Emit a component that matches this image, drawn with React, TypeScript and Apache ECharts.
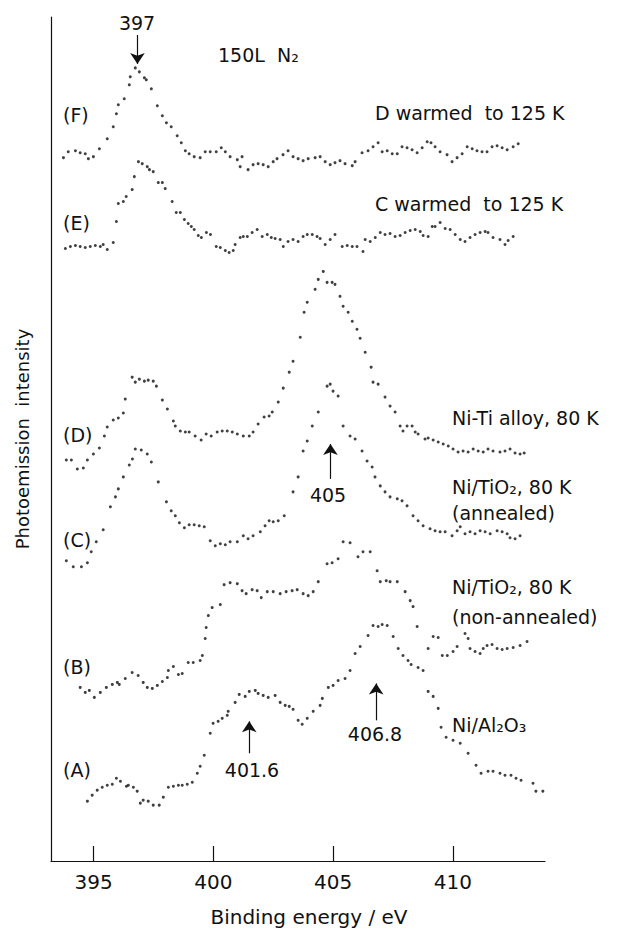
import React, { useEffect, useRef } from "react";
import * as echarts from "echarts";

// Binding energy (eV) vs photoemission intensity (arb. units, spectra offset vertically)
const xTicks = [395, 400, 405, 410];

const specF: [number, number][] = [
  [393.74, 705], [393.94, 711], [394.24, 712], [394.44, 710], [394.65, 709], [394.78, 704], [394.99, 706],
  [395.24, 714], [395.57, 724], [395.82, 736], [395.95, 749], [396.03, 758], [396.28, 764], [396.49, 778],
  [396.53, 786], [396.74, 795], [396.91, 791], [397.12, 785], [397.20, 783], [397.41, 774], [397.66, 757],
  [397.87, 747], [398.04, 740], [398.24, 736], [398.49, 727], [398.66, 720], [398.83, 712], [398.99, 709],
  [399.20, 706], [399.45, 705], [399.66, 711], [399.87, 711], [400.12, 711], [400.33, 715], [400.50, 711],
  [400.70, 706], [401.00, 703], [401.12, 696], [401.20, 706], [401.45, 693], [401.66, 698], [401.87, 699],
  [402.08, 698], [402.29, 696], [402.50, 701], [402.66, 704], [402.91, 708], [403.12, 712], [403.33, 706],
  [403.54, 704], [403.75, 702], [403.96, 704], [404.25, 705], [404.46, 706], [404.67, 701], [404.88, 698],
  [405.08, 700], [405.29, 702], [405.50, 699], [405.80, 697], [405.92, 701], [406.21, 710], [406.46, 712],
  [406.67, 716], [406.88, 720], [407.05, 711], [407.26, 712], [407.47, 709], [407.68, 709], [407.88, 716],
  [408.09, 715], [408.30, 713], [408.51, 710], [408.72, 715], [408.93, 721], [409.09, 720], [409.26, 716],
  [409.47, 711], [409.76, 708], [409.97, 701], [410.18, 705], [410.39, 709], [410.60, 716], [410.81, 714],
  [411.01, 712], [411.22, 711], [411.43, 711], [411.64, 716], [411.85, 717], [412.06, 715], [412.27, 713],
  [412.52, 716], [412.73, 719],
];

const specE: [number, number][] = [
  [393.82, 614], [394.03, 616], [394.24, 617], [394.44, 616], [394.65, 615], [394.86, 616], [395.07, 617],
  [395.28, 616], [395.40, 618], [395.57, 613], [395.82, 620], [395.95, 641], [396.03, 659], [396.24, 661],
  [396.36, 666], [396.61, 673], [396.70, 686], [396.87, 701], [397.03, 699], [397.24, 696], [397.33, 693],
  [397.49, 691], [397.70, 680], [397.87, 680], [397.99, 674], [398.28, 661], [398.45, 650], [398.62, 650],
  [398.79, 643], [398.95, 639], [399.08, 636], [399.20, 633], [399.37, 627], [399.50, 625], [399.71, 630],
  [399.88, 628], [400.12, 616], [400.29, 615], [400.50, 612], [400.66, 610], [400.83, 612], [400.91, 618],
  [401.12, 625], [401.25, 626], [401.42, 626], [401.62, 630], [401.83, 633], [402.04, 626], [402.25, 628],
  [402.42, 625], [402.58, 624], [402.79, 623], [402.92, 616], [403.12, 621], [403.33, 623], [403.54, 621],
  [403.75, 626], [403.92, 628], [404.13, 628], [404.33, 626], [404.46, 624], [404.67, 618], [404.88, 623],
  [405.08, 628], [405.38, 616], [405.59, 617], [405.80, 616], [406.00, 616], [406.25, 611], [406.34, 623],
  [406.55, 621], [406.76, 625], [406.97, 630], [407.17, 628], [407.38, 629], [407.59, 626], [407.80, 627],
  [408.01, 630], [408.22, 632], [408.43, 633], [408.64, 631], [408.76, 627], [408.97, 626], [409.14, 636],
  [409.26, 636], [409.47, 640], [409.68, 634], [409.89, 633], [410.10, 628], [410.31, 623], [410.51, 621],
  [410.72, 625], [410.93, 628], [411.14, 630], [411.35, 631], [411.47, 630], [411.68, 625], [411.97, 623],
  [412.18, 618], [412.31, 622], [412.52, 626],
];

const specD: [number, number][] = [
  [393.86, 402], [394.07, 402], [394.32, 393], [394.57, 394], [394.74, 402], [394.99, 408], [395.24, 414],
  [395.45, 426], [395.57, 435], [395.82, 442], [396.03, 444], [396.24, 449], [396.32, 463], [396.61, 485],
  [396.74, 480], [396.91, 483], [397.12, 481], [397.28, 482], [397.49, 481], [397.62, 476], [397.87, 462],
  [398.08, 453], [398.33, 441], [398.41, 436], [398.62, 431], [398.83, 430], [398.99, 430], [399.24, 426],
  [399.49, 422], [399.70, 428], [399.91, 426], [400.16, 430], [400.37, 431], [400.58, 431], [400.79, 430],
  [401.00, 428], [401.25, 426], [401.50, 426], [401.66, 430], [401.87, 438], [402.12, 445], [402.33, 446],
  [402.46, 450], [402.71, 460], [402.92, 474], [403.17, 490], [403.33, 501], [403.63, 525], [403.79, 550],
  [403.92, 560], [404.25, 573], [404.38, 583], [404.59, 591], [404.75, 580], [404.96, 580], [405.08, 578],
  [405.29, 566], [405.42, 556], [405.63, 550], [405.80, 541], [406.00, 533], [406.13, 524], [406.34, 510],
  [406.59, 495], [406.67, 480], [406.88, 478], [407.17, 465], [407.38, 456], [407.59, 450], [407.80, 436],
  [407.92, 431], [408.09, 436], [408.30, 436], [408.43, 430], [408.55, 428], [408.84, 423], [408.97, 424],
  [409.18, 422], [409.39, 420], [409.60, 418], [409.81, 416], [410.01, 413], [410.22, 410], [410.43, 411],
  [410.64, 410], [410.85, 413], [411.06, 411], [411.27, 410], [411.47, 413], [411.68, 411], [411.97, 410],
  [412.18, 411], [412.39, 413], [412.60, 409], [412.81, 408], [412.98, 409],
];

const specC: [number, number][] = [
  [393.86, 301], [394.15, 295], [394.49, 295], [394.74, 299], [394.90, 310], [395.11, 320], [395.40, 332],
  [395.70, 355], [395.91, 365], [396.03, 373], [396.24, 385], [396.49, 397], [396.62, 403], [396.74, 413],
  [396.99, 412], [397.24, 408], [397.41, 400], [397.70, 380], [398.04, 360], [398.24, 351], [398.41, 346],
  [398.58, 339], [398.79, 334], [398.99, 337], [399.20, 337], [399.41, 336], [399.62, 335], [399.87, 321],
  [400.08, 316], [400.29, 318], [400.50, 317], [400.70, 320], [401.00, 320], [401.25, 326], [401.45, 323],
  [401.66, 326], [401.96, 330], [402.16, 336], [402.33, 341], [402.50, 340], [402.71, 341], [402.96, 346],
  [403.33, 370], [403.54, 385], [403.75, 411], [403.92, 421], [404.13, 436], [404.38, 450], [404.75, 476],
  [404.88, 478], [405.00, 471], [405.21, 466], [405.42, 436], [405.71, 426], [405.92, 423], [406.21, 411],
  [406.42, 401], [406.63, 395], [406.75, 385], [406.97, 376], [407.17, 370], [407.38, 365], [407.68, 363],
  [407.88, 361], [408.09, 356], [408.34, 346], [408.55, 341], [408.76, 336], [409.05, 333], [409.26, 331],
  [409.47, 330], [409.68, 330], [409.97, 326], [410.18, 331], [410.31, 335], [410.51, 328], [410.72, 330],
  [410.93, 328], [411.14, 331], [411.35, 330], [411.56, 328], [411.85, 331], [412.06, 330], [412.27, 328],
  [412.39, 324], [412.60, 323], [412.81, 326],
];

const specB: [number, number][] = [
  [394.44, 174], [394.65, 169], [394.82, 171], [395.03, 164], [395.28, 169], [395.53, 174], [395.78, 177],
  [395.99, 179], [396.07, 177], [396.32, 183], [396.61, 189], [396.86, 186], [397.07, 179], [397.24, 174],
  [397.45, 173], [397.66, 176], [397.87, 180], [398.08, 184], [398.12, 191], [398.33, 195], [398.54, 187],
  [398.70, 188], [398.95, 199], [399.16, 199], [399.45, 201], [399.54, 206], [399.66, 223], [399.70, 234],
  [399.79, 246], [399.95, 254], [400.29, 257], [400.45, 277], [400.70, 279], [401.00, 278], [401.20, 271],
  [401.37, 268], [401.62, 272], [401.83, 271], [402.00, 264], [402.25, 270], [402.50, 270], [402.79, 268],
  [403.04, 270], [403.29, 271], [403.50, 272], [403.75, 268], [403.96, 266], [404.17, 270], [404.38, 280],
  [404.75, 298], [404.96, 299], [405.21, 303], [405.42, 320], [405.71, 319], [406.04, 305], [406.25, 310],
  [406.55, 310], [406.84, 291], [406.97, 280], [407.22, 281], [407.38, 280], [407.68, 280], [408.01, 270],
  [408.22, 261], [408.34, 255], [408.51, 235], [408.97, 213], [409.18, 225], [409.39, 224], [409.56, 206],
  [409.77, 206], [410.01, 210], [410.18, 215], [410.51, 228], [410.64, 223], [410.72, 213], [410.93, 210],
  [411.14, 208], [411.27, 213], [411.43, 216], [411.64, 217], [411.85, 213], [412.06, 212], [412.27, 213],
  [412.52, 214], [412.81, 216], [413.10, 220],
];

const specA: [number, number][] = [
  [394.74, 60], [394.94, 66], [395.15, 71], [395.36, 74], [395.57, 76], [395.78, 77], [395.95, 83],
  [396.12, 80], [396.37, 75], [396.45, 76], [396.66, 74], [396.82, 70], [396.95, 58], [397.07, 61],
  [397.28, 60], [397.49, 56], [397.74, 56], [397.91, 64], [398.12, 74], [398.33, 75], [398.54, 76],
  [398.70, 76], [398.91, 77], [399.12, 79], [399.33, 88], [399.45, 95], [399.62, 106], [399.87, 128],
  [399.99, 138], [400.20, 140], [400.37, 143], [400.58, 146], [400.62, 150], [400.91, 159], [401.08, 167],
  [401.33, 165], [401.50, 170], [401.75, 171], [401.87, 168], [402.08, 166], [402.29, 164], [402.58, 166],
  [402.79, 159], [403.00, 156], [403.17, 155], [403.33, 152], [403.54, 141], [403.71, 137], [403.92, 143],
  [404.17, 150], [404.46, 156], [404.55, 163], [404.80, 174], [405.00, 176], [405.21, 181], [405.50, 183],
  [405.71, 191], [405.92, 208], [406.13, 215], [406.46, 226], [406.67, 236], [406.88, 235], [407.05, 237],
  [407.26, 236], [407.51, 225], [407.72, 213], [407.92, 206], [408.13, 201], [408.26, 197], [408.55, 194],
  [408.76, 191], [408.97, 170], [409.18, 165], [409.39, 153], [409.51, 134], [409.72, 124], [410.01, 121],
  [410.31, 118], [410.64, 108], [410.97, 96], [411.18, 88], [411.47, 90], [411.68, 90], [411.97, 88],
  [412.18, 86], [412.43, 86], [412.64, 83], [412.85, 81], [413.35, 78], [413.47, 70], [413.76, 70],
];

const spectra = [
  { name: "(A) Ni/Al2O3", data: specA },
  { name: "(B) Ni/TiO2 non-annealed", data: specB },
  { name: "(C) Ni/TiO2 annealed", data: specC },
  { name: "(D) Ni-Ti alloy", data: specD },
  { name: "(E) C warmed", data: specE },
  { name: "(F) D warmed", data: specF },
];

// peak-marker arrows: energy position, tail and tip intensity
const arrowX = [396.83, 404.89, 401.5, 406.8];
const arrowTail = [828, 383, 108, 141];
const arrowTip = [799, 418, 140, 178];

const FONT = "DejaVu Sans";
const INK = "#111";

function txt(text: string, x: number, y: number, align: "left" | "center" = "left", size = 19) {
  return {
    type: "text",
    x,
    y,
    style: {
      text,
      fill: INK,
      font: `${size}px "${FONT}"`,
      textAlign: align,
      textVerticalAlign: "middle",
    },
  };
}

export default function App() {
  const ref = useRef<HTMLDivElement>(null);
  useEffect(() => {
    if (!ref.current) return;
    const chart = echarts.init(ref.current, null, { renderer: "svg" });
    const option: any = {
      animation: false,
      backgroundColor: "#fff",
      grid: { left: 51, right: 73, top: 17, bottom: 69, containLabel: false },
      xAxis: {
        type: "value",
        min: 393.22,
        max: 413.85,
        name: "Binding energy / eV",
        nameLocation: "middle",
        nameGap: 46,
        nameTextStyle: { fontFamily: FONT, fontSize: 20, color: INK, padding: [0, 0, 0, 22] },
        axisLine: { lineStyle: { color: INK, width: 1.2 } },
        axisTick: { inside: true, length: 15, customValues: xTicks, lineStyle: { color: INK, width: 1.2 } },
        axisLabel: { customValues: xTicks, fontFamily: FONT, fontSize: 20, color: INK, margin: 11 },
        splitLine: { show: false },
      },
      yAxis: {
        type: "value",
        min: 0,
        max: 846,
        name: "Photoemission  intensity",
        nameLocation: "middle",
        nameGap: 20,
        nameRotate: 90,
        nameTextStyle: { fontFamily: FONT, fontSize: 18, color: INK },
        axisLine: { show: true, lineStyle: { color: INK, width: 1.2 } },
        axisTick: { show: false },
        axisLabel: { show: false },
        splitLine: { show: false },
      },
      series: [
        ...spectra.map((s) => ({
          type: "scatter",
          name: s.name,
          data: s.data,
          symbol: "circle",
          symbolSize: 3,
          itemStyle: { color: INK },
          silent: true,
        })),
        {
          type: "lines",
          coordinateSystem: "cartesian2d",
          symbol: ["none", "arrow"],
          symbolSize: [6, 11],
          lineStyle: { color: INK, width: 1.2, opacity: 1 },
          data: arrowX.map((x, i) => ({ coords: [[x, arrowTail[i]], [x, arrowTip[i]]] })),
        },
      ],
      graphic: [
        txt("397", 137, 23, "center"),
        txt("150L  N₂", 218, 55),
        txt("(F)", 63, 115),
        txt("(E)", 63, 223),
        txt("(D)", 63, 435),
        txt("(C)", 63, 540),
        txt("(B)", 63, 667),
        txt("(A)", 63, 770),
        txt("D warmed  to 125 K", 375, 113),
        txt("C warmed  to 125 K", 375, 204),
        txt("Ni-Ti alloy, 80 K", 452, 418),
        txt("Ni/TiO₂, 80 K", 452, 487),
        txt("(annealed)", 452, 513),
        txt("405", 328, 495, "center"),
        txt("Ni/TiO₂, 80 K", 452, 587),
        txt("(non-annealed)", 452, 617),
        txt("406.8", 375, 734, "center"),
        txt("Ni/Al₂O₃", 452, 725),
        txt("401.6", 252, 770, "center"),
      ],
    };
    chart.setOption(option);
    return () => chart.dispose();
  }, []);
  return (
    <div
      ref={ref}
      style={{ position: "fixed", left: 0, top: 0, width: 618, height: 932, background: "#fff" }}
    />
  );
}
